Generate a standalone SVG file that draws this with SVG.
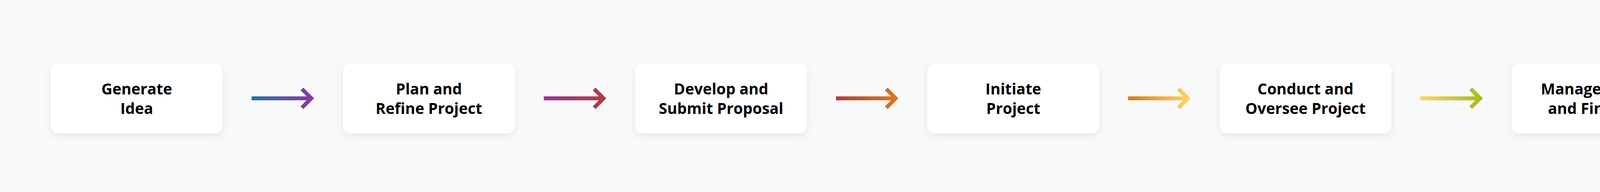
<svg xmlns="http://www.w3.org/2000/svg" width="5186" height="492" viewBox="0 0 5186 492">
  <style>
    .box { fill: #ffffff; filter: url(#shadow); }
    .lbl { font-family: "Open Sans", "Noto Sans", "Liberation Sans", sans-serif; font-weight: 700; font-size: 39px; fill: #000000; text-anchor: middle; }
    .arr { fill: none; stroke-width: 10; stroke-linejoin: miter; stroke-linecap: butt; }
  </style>
  <defs>
    <filter id="shadow" x="-10%" y="-20%" width="120%" height="150%">
      <feDropShadow dx="0" dy="6" stdDeviation="9" flood-color="#1e2a3c" flood-opacity="0.08"/>
    </filter>
    <linearGradient id="g1" gradientUnits="userSpaceOnUse" x1="0" y1="0" x2="160" y2="0">
      <stop offset="0" stop-color="#1675b4"/><stop offset="1" stop-color="#8f379c"/>
    </linearGradient>
    <linearGradient id="g2" gradientUnits="userSpaceOnUse" x1="0" y1="0" x2="160" y2="0">
      <stop offset="0" stop-color="#9a3398"/><stop offset="1" stop-color="#b43c3a"/>
    </linearGradient>
    <linearGradient id="g3" gradientUnits="userSpaceOnUse" x1="0" y1="0" x2="160" y2="0">
      <stop offset="0" stop-color="#b53b3a"/><stop offset="1" stop-color="#e07812"/>
    </linearGradient>
    <linearGradient id="g4" gradientUnits="userSpaceOnUse" x1="0" y1="0" x2="160" y2="0">
      <stop offset="0" stop-color="#e07812"/><stop offset="1" stop-color="#fed65e"/>
    </linearGradient>
    <linearGradient id="g5" gradientUnits="userSpaceOnUse" x1="0" y1="0" x2="160" y2="0">
      <stop offset="0" stop-color="#fed65e"/><stop offset="1" stop-color="#a4b818"/>
    </linearGradient>
    <linearGradient id="g6" gradientUnits="userSpaceOnUse" x1="0" y1="0" x2="160" y2="0">
      <stop offset="0" stop-color="#a4b818"/><stop offset="1" stop-color="#34998f"/>
    </linearGradient>
  </defs>
  <rect x="0" y="0" width="5186" height="492" fill="#f8f9fb"/>

  <g id="connectors">
    <path class="arr" stroke="url(#g1)" transform="translate(644,0)" d="M0,252 H153 M129,228 L153,252 L129,276"/>
    <path class="arr" stroke="url(#g2)" transform="translate(1392,0)" d="M0,252 H153 M129,228 L153,252 L129,276"/>
    <path class="arr" stroke="url(#g3)" transform="translate(2140,0)" d="M0,252 H153 M129,228 L153,252 L129,276"/>
    <path class="arr" stroke="url(#g4)" transform="translate(2888,0)" d="M0,252 H153 M129,228 L153,252 L129,276"/>
    <path class="arr" stroke="url(#g5)" transform="translate(3636,0)" d="M0,252 H153 M129,228 L153,252 L129,276"/>
    <path class="arr" stroke="url(#g6)" transform="translate(4384,0)" d="M0,252 H153 M129,228 L153,252 L129,276"/>
  </g>

  <g id="node-generate-idea">
    <rect class="box" x="130" y="162" width="440" height="180" rx="20"/>
    <text class="lbl" x="350" y="242">Generate</text>
    <text class="lbl" x="350" y="292">Idea</text>
  </g>
  <g id="node-plan-refine">
    <rect class="box" x="878" y="162" width="440" height="180" rx="20"/>
    <text class="lbl" x="1098" y="242">Plan and</text>
    <text class="lbl" x="1098" y="292">Refine Project</text>
  </g>
  <g id="node-develop-submit">
    <rect class="box" x="1626" y="162" width="440" height="180" rx="20"/>
    <text class="lbl" x="1846" y="242">Develop and</text>
    <text class="lbl" x="1846" y="292">Submit Proposal</text>
  </g>
  <g id="node-initiate">
    <rect class="box" x="2374" y="162" width="440" height="180" rx="20"/>
    <text class="lbl" x="2594" y="242">Initiate</text>
    <text class="lbl" x="2594" y="292">Project</text>
  </g>
  <g id="node-conduct-oversee">
    <rect class="box" x="3122" y="162" width="440" height="180" rx="20"/>
    <text class="lbl" x="3342" y="242">Conduct and</text>
    <text class="lbl" x="3342" y="292">Oversee Project</text>
  </g>
  <g id="node-manage-award">
    <rect class="box" x="3870" y="162" width="440" height="180" rx="20"/>
    <text class="lbl" x="4090" y="242">Manage Award</text>
    <text class="lbl" x="4090" y="292">and Finances</text>
  </g>
  <g id="node-disseminate">
    <rect class="box" x="4618" y="162" width="440" height="180" rx="20"/>
    <text class="lbl" x="4838" y="242">Disseminate</text>
    <text class="lbl" x="4838" y="292">and Close Out</text>
  </g>
</svg>
